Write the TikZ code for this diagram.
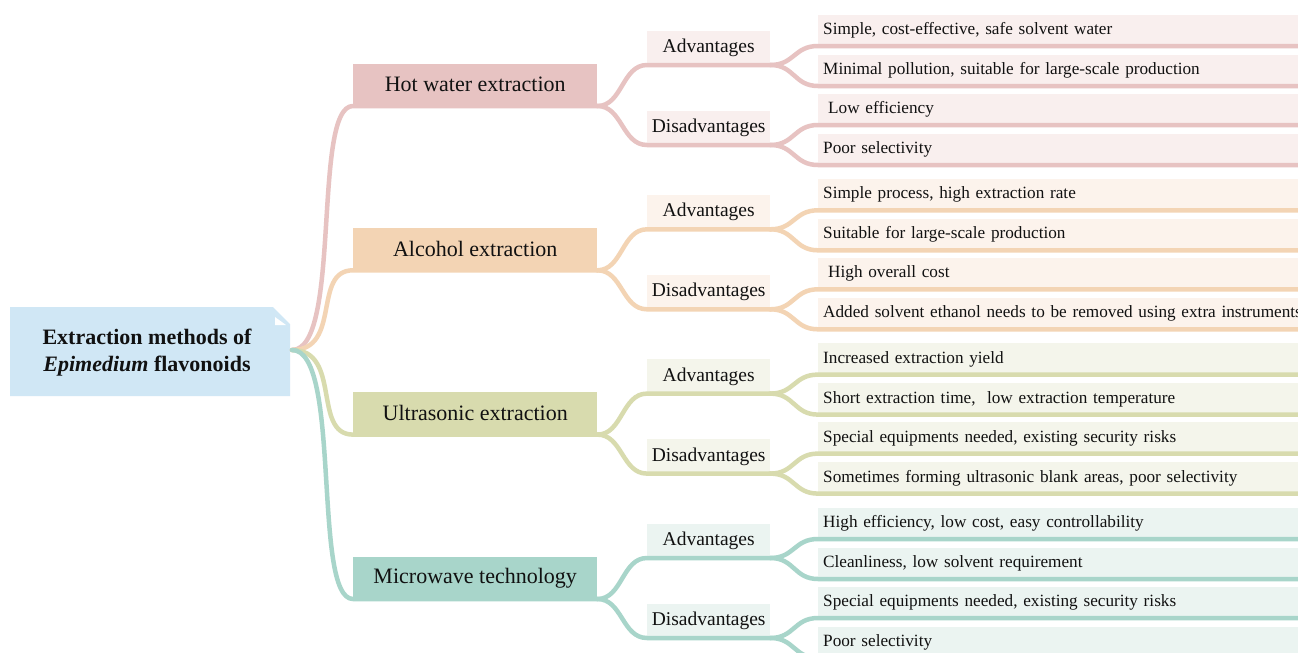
\documentclass[tikz,border=0pt]{standalone}
\usepackage{fontspec}
\setmainfont{Liberation Serif}
\definecolor{pkD}{HTML}{E7C3C2}
\definecolor{pkL}{HTML}{F9EFEE}
\definecolor{orD}{HTML}{F3D4B4}
\definecolor{orL}{HTML}{FCF3EC}
\definecolor{olD}{HTML}{D8DBAE}
\definecolor{olL}{HTML}{F4F5EB}
\definecolor{tlD}{HTML}{A8D5CA}
\definecolor{tlL}{HTML}{EBF4F1}
\definecolor{rootfill}{HTML}{D0E7F5}
\definecolor{ink}{HTML}{111111}
\tikzset{
  mainbox/.style={fill=#1D, minimum width=244pt, minimum height=42pt, inner sep=0pt, text=ink,
    font=\fontsize{22}{26}\selectfont},
  secbox/.style={fill=#1L, minimum width=123pt, minimum height=34pt, inner sep=0pt, text=ink,
    font=\fontsize{19.5}{23}\selectfont},
  leafbox/.style={fill=#1L, minimum width=492pt, minimum height=31pt, inner xsep=5pt, inner ysep=0pt,
    text width=482pt, align=left, text=ink, font=\fontsize{17.2}{21}\selectfont},
  roottext/.style={align=center, text=ink, inner sep=0pt, font=\fontsize{22}{26.5}\selectfont\bfseries},
  conn/.style={draw=#1D, line width=4.5pt, line cap=round, line join=round}
}
\newcommand\mmbranch[8]{%
  \node[mainbox=#3, anchor=south west] (#1m) at (353,106+#2) {#4};
  \node[secbox=#3, anchor=south west] (#1a) at (647,65+#2) {Advantages};
  \node[secbox=#3, anchor=south west] (#1d) at (647,145+#2) {Disadvantages};
  \node[leafbox=#3, anchor=south west] (#1l1) at (818,46+#2) {\mbox{#5}};
  \node[leafbox=#3, anchor=south west] (#1l2) at (818,86+#2) {\mbox{#6}};
  \node[leafbox=#3, anchor=south west] (#1l3) at (818,125+#2) {\mbox{#7}};
  \node[leafbox=#3, anchor=south west] (#1l4) at (818,165+#2) {\mbox{#8}};
  \draw[conn=#3] (rootout) .. controls +(50,0) and +(-41,0) .. (#1m.south west) -- (#1m.south east);
  \draw[conn=#3] (#1m.south east) .. controls +(25,0) and +(-25,0) .. (#1a.south west) -- (#1a.south east);
  \draw[conn=#3] (#1m.south east) .. controls +(25,0) and +(-25,0) .. (#1d.south west) -- (#1d.south east);
  \draw[conn=#3] (#1a.south east) .. controls +(24,0) and +(-24,0) .. (#1l1.south west) -- (#1l1.south east);
  \draw[conn=#3] (#1a.south east) .. controls +(24,0) and +(-24,0) .. (#1l2.south west) -- (#1l2.south east);
  \draw[conn=#3] (#1d.south east) .. controls +(24,0) and +(-24,0) .. (#1l3.south west) -- (#1l3.south east);
  \draw[conn=#3] (#1d.south east) .. controls +(24,0) and +(-24,0) .. (#1l4.south west) -- (#1l4.south east);
}
\begin{document}
\begin{tikzpicture}[x=1pt,y=-1pt]
\useasboundingbox (0,0) rectangle (1298,653);
\clip (0,0) rectangle (1298,653);
\fill[white] (0,0) rectangle (1298,653);
\fill[rootfill] (10,307) -- (273,307) -- (290,324) -- (290,396) -- (10,396) -- cycle;
\fill[white] (275,317) -- (286,325) -- (275,325) -- cycle;
\node[roottext] (root) at (147,352.5) {Extraction methods of\\\textit{Epimedium} flavonoids};
\coordinate (rootout) at (292,350);
\mmbranch{hw}{0}{pk}{Hot water extraction}{Simple, cost-effective, safe solvent water}{Minimal pollution, suitable for large-scale production}{\hspace*{5pt}Low efficiency}{Poor selectivity}
\mmbranch{al}{164.3}{or}{Alcohol extraction}{Simple process, high extraction rate}{Suitable for large-scale production}{\hspace*{5pt}High overall cost}{Added solvent ethanol needs to be removed using extra instruments}
\mmbranch{us}{328.6}{ol}{Ultrasonic extraction}{Increased extraction yield}{Short extraction time,\ \ low extraction temperature}{Special equipments needed, existing security risks}{Sometimes forming ultrasonic blank areas, poor selectivity}
\mmbranch{mw}{493}{tl}{Microwave technology}{High efficiency, low cost, easy controllability}{Cleanliness, low solvent requirement}{Special equipments needed, existing security risks}{Poor selectivity}
\end{tikzpicture}
\end{document}
